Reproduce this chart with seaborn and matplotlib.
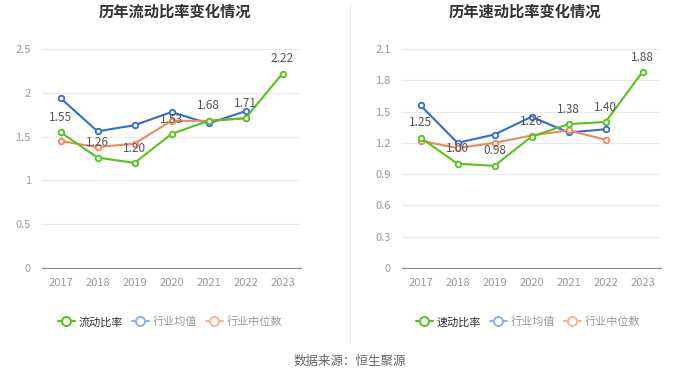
import seaborn as sns
import numpy as np
import pandas as pd
import matplotlib.pyplot as plt
from matplotlib.lines import Line2D

years = ["2017", "2018", "2019", "2020", "2021", "2022", "2023"]

# current ratio (left)
current_ratio = [1.55, 1.26, 1.20, 1.53, 1.68, 1.71, 2.22]
current_avg = [1.94, 1.56, 1.63, 1.78, 1.65, 1.79]
current_median = [1.45, 1.38, 1.42, 1.68, 1.68, 1.71]

# quick ratio (right)
quick_ratio = [1.25, 1.00, 0.98, 1.26, 1.38, 1.40, 1.88]
quick_avg = [1.56, 1.20, 1.28, 1.45, 1.30, 1.33]
quick_median = [1.22, 1.15, 1.20, 1.27, 1.32, 1.23]

left_ticks = [0, 0.5, 1, 1.5, 2, 2.5]
left_labels = ["0", "0.5", "1", "1.5", "2", "2.5"]
right_ticks = [0, 0.3, 0.6, 0.9, 1.2, 1.5, 1.8, 2.1]
right_labels = ["0", "0.3", "0.6", "0.9", "1.2", "1.5", "1.8", "2.1"]

sns.set_style("white")
plt.rcParams['font.family'] = ['Noto Sans CJK SC', 'DejaVu Sans']

green = "#52c41a"
blue = "#2f6be0"
orange = "#f6845a"
tick_col = "#999999"

fig = plt.figure(figsize=(7, 3.78), dpi=100)
ax1 = fig.add_axes([42/700, 1-268/378, 259/700, 219/378])
ax2 = fig.add_axes([402/700, 1-268/378, 259/700, 219/378])


def draw(ax, main, avg, med, ticks, labels, ylim):
    df = pd.DataFrame({"year": years, "v": main})
    sns.lineplot(data=df, x="year", y="v", ax=ax, color=green, lw=1.5,
                 marker="o", markersize=4, markerfacecolor="white",
                 markeredgecolor=green, markeredgewidth=1.3, zorder=4)
    sns.lineplot(x=years[:len(avg)], y=avg, ax=ax, color=blue, lw=1.5,
                 marker="o", markersize=4, markerfacecolor="white",
                 markeredgecolor=blue, markeredgewidth=1.3, zorder=3)
    sns.lineplot(x=years[:len(med)], y=med, ax=ax, color=orange, lw=1.5,
                 marker="o", markersize=4, markerfacecolor="white",
                 markeredgecolor=orange, markeredgewidth=1.3, zorder=3)
    for i, v in enumerate(main):
        ax.annotate(f"{v:.2f}", (i, v), xytext=(0, 6), textcoords="offset points",
                    ha="center", va="bottom", fontsize=8.5, color="#555555", zorder=5)
    ax.set_xlim(-0.5, 6.5)
    ax.set_ylim(*ylim)
    ax.set_yticks(ticks)
    ax.set_yticklabels(labels)
    ax.set_xlabel("")
    ax.set_ylabel("")
    ax.grid(axis="y", color="#e8ebf2", lw=0.8)
    ax.set_axisbelow(True)
    for s in ["top", "right", "left"]:
        ax.spines[s].set_visible(False)
    ax.spines["bottom"].set_color("#8c8c8c")
    ax.tick_params(axis="x", length=4, color="#8c8c8c", colors=tick_col, labelsize=8)
    ax.tick_params(axis="y", length=0, colors=tick_col, labelsize=8, pad=8)


draw(ax1, current_ratio, current_avg, current_median, left_ticks, left_labels, (0, 2.5))
draw(ax2, quick_ratio, quick_avg, quick_median, right_ticks, right_labels, (0, 2.1))

fig.text(175/700, 1-12/378, "历年流动比率变化情况", ha="center", va="center",
         fontsize=11, fontweight="bold", color="#333333")
fig.text(525/700, 1-12/378, "历年速动比率变化情况", ha="center", va="center",
         fontsize=11, fontweight="bold", color="#333333")

# separator
fig.add_artist(Line2D([350/700, 350/700], [1-2/378, 1-342/378], color="#eeeeee", lw=0.8))


def handles(name):
    return [
        Line2D([], [], color=green, lw=1.5, marker="o", markersize=6.5,
               markerfacecolor="white", markeredgecolor=green, markeredgewidth=1.4, label=name),
        Line2D([], [], color="#8fb0f0", lw=1.5, marker="o", markersize=6.5,
               markerfacecolor="white", markeredgecolor="#8fb0f0", markeredgewidth=1.4, label="行业均值"),
        Line2D([], [], color="#f9b49a", lw=1.5, marker="o", markersize=6.5,
               markerfacecolor="white", markeredgecolor="#f9b49a", markeredgewidth=1.4, label="行业中位数"),
    ]


for cx, name in [(170, "流动比率"), (528, "速动比率")]:
    leg = fig.legend(handles=handles(name), loc="center", bbox_to_anchor=(cx/700, 1-322/378),
                     ncol=3, frameon=False, fontsize=8, handlelength=1.5,
                     columnspacing=0.8, handletextpad=0.35)
    for j, t in enumerate(leg.get_texts()):
        t.set_color("#333333" if j == 0 else "#999999")

fig.text(0.5, 1-361/378, "数据来源：恒生聚源", ha="center", va="center",
         fontsize=9, color="#666666")

plt.savefig("out.png", dpi=100)
